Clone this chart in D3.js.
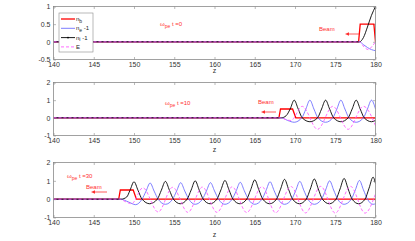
<!DOCTYPE html>
<html>
<head>
<meta charset="utf-8">
<script src="https://cdn.jsdelivr.net/npm/d3@7"></script>
<style>
body { margin: 0; background: #fff; }
svg { display: block; }
text { font-family: "Liberation Sans", Arial, sans-serif; }
</style>
</head>
<body>
<svg id="chart"></svg>
<script>
// svg size
const width = 415;
const height = 241;

// ticks
const zTicks = [140, 145, 150, 155, 160, 165, 170, 175, 180];
const yTicks0 = [-0.5, 0, 0.5, 1];
const yTicks1 = [-1, 0, 1, 2];
const times = ["0", "10", "30"];
const legendNames = ["b", "e", "i", "E"];

// t = 0
const t0_nb = [[140, 0], [177.9, 0], [178.1, 0.5], [179.8, 0.5], [180, 0]];
const t0_ne = [[140, 0], [178.0, 0], [178.5, -0.08], [179.0, -0.16], [179.5, -0.22], [180, -0.25]];
const t0_ni = [[140, 0], [178.0, 0], [178.5, 0.12], [179.0, 0.42], [179.5, 0.75], [180, 1.0]];
const t0_E = [[140, 0], [178.0, 0], [178.6, -0.15], [179.1, -0.22], [179.6, -0.12], [180, 0]];

// t = 10
const t10_nb = [[140, 0], [168.0, 0], [168.2, 0.5], [169.7, 0.5], [170.1, 0], [180, 0]];
const t10_ne = [[140, 0], [168.3, 0], [169.1, -0.15], [169.9, -0.25], [170.85, 0], [171.35, 0.5], [171.85, 1.0],
  [172.35, 0.5], [172.85, 0], [173.8, -0.25], [174.7, 0], [175.2, 0.5], [175.7, 1.0], [176.2, 0.5],
  [176.7, 0], [177.6, -0.25], [178.5, 0], [179.0, 0.5], [179.5, 1.0], [180, 0.5]];
const t10_ni = [[140, 0], [168.3, 0], [168.9, 0.12], [169.4, 0.5], [169.9, 1.0], [170.4, 0.5], [170.9, 0],
  [171.85, -0.22], [172.8, 0], [173.3, 0.5], [173.8, 1.0], [174.3, 0.5], [174.8, 0], [175.7, -0.22],
  [176.6, 0], [177.1, 0.5], [177.6, 1.0], [178.1, 0.5], [178.6, 0], [179.5, -0.22], [180, -0.15]];
const t10_E = [[140, 0], [168.2, 0], [169.0, -0.12], [169.5, -0.15], [170.9, 0.65], [172.8, -0.65],
  [174.7, 0.65], [176.6, -0.65], [178.5, 0.65], [180, -0.45]];

// t = 30
const t30_nb = [[140, 0], [148.1, 0], [148.3, 0.5], [149.9, 0.5], [150.3, 0], [180, 0]];
const t30_ne = [[140, 0], [148.3, 0], [149.3, -0.15], [150.2, -0.3], [151.0, 0], [151.5, 0.44], [152.0, 0.88],
  [152.5, 0.44], [153.0, 0], [153.9, -0.28], [154.8, 0], [155.3, 0.45], [155.8, 0.9], [156.3, 0.45],
  [156.8, 0], [157.6, -0.28], [158.5, 0], [159.0, 0.45], [159.5, 0.9], [160.0, 0.45], [160.5, 0],
  [161.3, -0.28], [162.2, 0], [162.7, 0.46], [163.2, 0.92], [163.7, 0.46], [164.2, 0], [165.0, -0.28],
  [165.9, 0], [166.4, 0.47], [166.9, 0.95], [167.4, 0.47], [167.9, 0], [168.7, -0.28], [169.6, 0],
  [170.1, 0.48], [170.6, 0.97], [171.1, 0.48], [171.6, 0], [172.4, -0.28], [173.3, 0], [173.8, 0.5],
  [174.3, 1.0], [174.8, 0.5], [175.3, 0], [176.1, -0.28], [177.0, 0], [177.5, 0.51], [178.0, 1.02],
  [178.5, 0.51], [179.0, 0], [179.7, -0.28], [180, -0.25]];
const t30_ni = [[140, 0], [148.4, 0], [149.1, 0.12], [149.5, 0.48], [150.0, 0.95], [150.5, 0.48], [151.0, 0],
  [151.95, -0.25], [152.9, 0], [153.4, 0.49], [153.9, 0.97], [154.4, 0.49], [154.9, 0], [155.75, -0.25],
  [156.6, 0], [157.1, 0.5], [157.6, 1.0], [158.1, 0.5], [158.6, 0], [159.45, -0.25], [160.3, 0],
  [160.8, 0.51], [161.3, 1.02], [161.8, 0.51], [162.3, 0], [163.15, -0.25], [164.0, 0], [164.5, 0.52],
  [165.0, 1.05], [165.5, 0.52], [166.0, 0], [166.85, -0.25], [167.7, 0], [168.2, 0.54], [168.7, 1.08],
  [169.2, 0.54], [169.7, 0], [170.55, -0.25], [171.4, 0], [171.9, 0.55], [172.4, 1.1], [172.9, 0.55],
  [173.4, 0], [174.25, -0.25], [175.1, 0], [175.6, 0.56], [176.1, 1.13], [176.6, 0.56], [177.1, 0],
  [177.9, -0.25], [178.7, 0], [179.2, 0.6], [179.7, 1.2], [180, 0.85]];
const t30_E = [[140, 0], [148.2, 0], [149.0, -0.15], [149.7, -0.25], [151.1, 0.62], [153.0, -0.7],
  [154.8, 0.65], [156.7, -0.72], [158.5, 0.66], [160.3, -0.72], [162.2, 0.67], [164.0, -0.73],
  [165.9, 0.68], [167.6, -0.74], [169.5, 0.69], [171.3, -0.75], [173.2, 0.7], [175.0, -0.76],
  [176.9, 0.7], [178.7, -0.76], [180, 0.3]];

// styles per series
const styles = {
  nb: { color: "#ff0000", width: 1.3, dash: null },
  ne: { color: "#6e6eff", width: 0.9, dash: null },
  ni: { color: "#000000", width: 0.9, dash: null },
  E: { color: "#ff5cff", width: 0.9, dash: "3,2" }
};

// panel layout
const panels = [
  { top: 6, bottom: 59, yDomain: [-0.5, 1], yTicks: yTicks0, time: times[0],
    data: { nb: t0_nb, ne: t0_ne, ni: t0_ni, E: t0_E },
    label: [160, 26], beam: [319, 31], arrow: [345, 359, 34], zLabel: 73 },
  { top: 82, bottom: 135, yDomain: [-1, 2], yTicks: yTicks1, time: times[1],
    data: { nb: t10_nb, ne: t10_ne, ni: t10_ni, E: t10_E },
    label: [165, 105], beam: [258, 104], arrow: [261, 276, 112], zLabel: 152 },
  { top: 162, bottom: 217, yDomain: [-1, 2], yTicks: yTicks1, time: times[2],
    data: { nb: t30_nb, ne: t30_ne, ni: t30_ni, E: t30_E },
    label: [67, 178], beam: [86, 189], arrow: [91, 107, 192], zLabel: 237 }
];

const svg = d3.select("#chart")
  .attr("width", width)
  .attr("height", height);

const x = d3.scaleLinear().domain([140, 180]).range([53.5, 375.5]);

panels.forEach((p, k) => {
  const y = d3.scaleLinear().domain(p.yDomain).range([p.bottom + 0.5, p.top + 0.5]);
  const g = svg.append("g");

  // clip to the axes box
  g.append("clipPath").attr("id", "clip" + k)
    .append("rect")
    .attr("x", x.range()[0]).attr("y", p.top)
    .attr("width", x.range()[1] - x.range()[0]).attr("height", p.bottom - p.top + 1);

  // axes
  const tickStyle = sel => {
    sel.select(".domain").remove();
    sel.selectAll(".tick line").attr("stroke", "#8a8a8a").attr("stroke-width", 0.6);
    sel.selectAll(".tick text").attr("fill", "#333").attr("font-size", 7);
  };
  g.append("g").attr("transform", `translate(0,${p.bottom + 0.5})`)
    .call(d3.axisBottom(x).tickValues(zTicks).tickSize(-2.5).tickSizeOuter(0).tickPadding(3).tickFormat(d3.format("d")))
    .call(tickStyle);
  g.append("g").attr("transform", `translate(0,${p.top + 0.5})`)
    .call(d3.axisTop(x).tickValues(zTicks).tickSize(-2.5).tickSizeOuter(0).tickFormat(""))
    .call(tickStyle);
  g.append("g").attr("transform", `translate(${x.range()[0]},0)`)
    .call(d3.axisLeft(y).tickValues(p.yTicks).tickSize(-2.5).tickSizeOuter(0).tickPadding(3).tickFormat(d => String(d)))
    .call(tickStyle);
  g.append("g").attr("transform", `translate(${x.range()[1]},0)`)
    .call(d3.axisRight(y).tickValues(p.yTicks).tickSize(-2.5).tickSizeOuter(0).tickFormat(""))
    .call(tickStyle);

  // lines
  const line = d3.line()
    .x(d => x(d[0]))
    .y(d => y(d[1]));
  const plot = g.append("g").attr("clip-path", `url(#clip${k})`);
  ["nb", "ne", "ni", "E"].forEach(key => {
    const s = styles[key];
    plot.append("path")
      .datum(p.data[key])
      .attr("fill", "none")
      .attr("stroke", s.color)
      .attr("stroke-width", s.width)
      .attr("stroke-dasharray", s.dash)
      .attr("d", key === "nb" ? line.curve(d3.curveLinear) : line.curve(d3.curveMonotoneX));
  });

  // frame
  g.append("rect")
    .attr("x", x.range()[0]).attr("y", p.top + 0.5)
    .attr("width", x.range()[1] - x.range()[0]).attr("height", p.bottom - p.top)
    .attr("fill", "none").attr("stroke", "#8a8a8a").attr("stroke-width", 0.8);

  // z label
  g.append("text")
    .attr("x", (x.range()[0] + x.range()[1]) / 2)
    .attr("y", p.zLabel)
    .attr("text-anchor", "middle")
    .attr("font-size", 7)
    .attr("fill", "#333")
    .text("z");

  // omega_pe t label
  const lab = g.append("text")
    .attr("x", p.label[0]).attr("y", p.label[1])
    .attr("font-size", 6).attr("fill", "#ff3030");
  lab.append("tspan").text("ω");
  lab.append("tspan").attr("dy", 2).attr("font-size", 5).text("pe");
  lab.append("tspan").attr("dy", -2).text(" t =" + p.time);

  // beam label and arrow
  g.append("text")
    .attr("x", p.beam[0]).attr("y", p.beam[1])
    .attr("font-size", 6).attr("fill", "#ff3030")
    .text("Beam");
  g.append("line")
    .attr("x1", p.arrow[0] + 3).attr("x2", p.arrow[1])
    .attr("y1", p.arrow[2]).attr("y2", p.arrow[2])
    .attr("stroke", "#ff3030").attr("stroke-width", 0.8);
  g.append("path")
    .attr("d", `M${p.arrow[0]},${p.arrow[2]} l4,-1.8 l0,3.6 Z`)
    .attr("fill", "#ff3030");
});

// legend
const legend = svg.append("g").attr("transform", "translate(59,13)");
legend.append("rect")
  .attr("width", 34).attr("height", 39)
  .attr("fill", "#fff").attr("stroke", "#8a8a8a").attr("stroke-width", 0.6);
["nb", "ne", "ni", "E"].forEach((key, i) => {
  const s = styles[key];
  const yy = 6 + i * 9.3;
  legend.append("line")
    .attr("x1", 2).attr("x2", 16).attr("y1", yy).attr("y2", yy)
    .attr("stroke", s.color).attr("stroke-width", key === "nb" ? 1.3 : 0.9)
    .attr("stroke-dasharray", s.dash);
  if (key === "ni") {
    legend.append("circle").attr("cx", 9).attr("cy", yy).attr("r", 0.9).attr("fill", "#000");
  }
  const t = legend.append("text")
    .attr("x", 17).attr("y", yy + 2)
    .attr("font-size", 6).attr("fill", "#222");
  if (key === "E") {
    t.text("E");
  } else {
    t.append("tspan").text("n");
    t.append("tspan").attr("dy", 1.8).attr("font-size", 5).text(legendNames[i]);
    if (key !== "nb") t.append("tspan").attr("dy", -1.8).text(" -1");
  }
});
</script>
</body>
</html>
